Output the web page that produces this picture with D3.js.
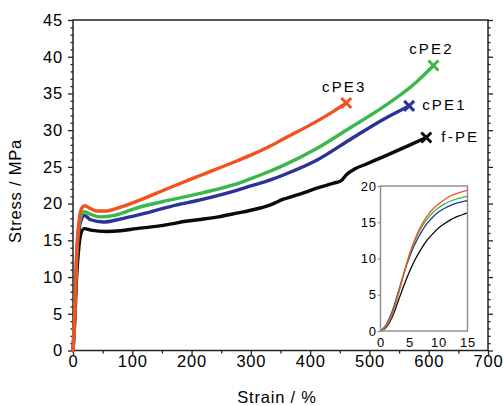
<!DOCTYPE html>
<html>
<head>
<meta charset="utf-8">
<script src="https://cdn.jsdelivr.net/npm/d3@7"></script>
<style>
  html, body { margin: 0; padding: 0; background: #fff; }
  svg { display: block; font-family: "Liberation Sans", Arial, sans-serif; }
</style>
</head>
<body>
<svg id="chart" width="504" height="406"></svg>
<script>
// Tensile curves: strain (%) and stress (MPa) for each film.
const seriesNames = ["f-PE", "cPE1", "cPE2", "cPE3"];

const strainFPE  = [0, 3, 6, 10, 15, 19, 30, 57, 80, 107, 140, 164, 190, 220, 245, 276, 300, 332, 355, 390, 411, 440, 452, 462, 475, 495, 524, 563, 596];
const stressFPE  = [0, 4.0, 9.9, 14.2, 16.3, 16.6, 16.4, 16.2, 16.3, 16.6, 16.9, 17.2, 17.6, 17.9, 18.2, 18.7, 19.1, 19.8, 20.6, 21.5, 22.1, 22.8, 23.1, 24.0, 24.7, 25.4, 26.4, 27.8, 29.0];

const strainCPE1 = [0, 3, 6, 10, 15, 19, 30, 51, 75, 107, 164, 220, 276, 300, 332, 355, 411, 467, 524, 567];
const stressCPE1 = [0, 5.2, 12.1, 16.4, 18.0, 18.4, 17.8, 17.5, 17.8, 18.4, 19.6, 20.6, 21.8, 22.4, 23.2, 23.9, 25.9, 28.7, 31.5, 33.3];

const strainCPE2 = [0, 3, 6, 10, 15, 19, 28, 45, 70, 107, 164, 220, 276, 300, 332, 355, 411, 467, 524, 580, 608];
const stressCPE2 = [0, 5.0, 12.6, 17.0, 18.6, 18.9, 18.6, 18.2, 18.4, 19.4, 20.5, 21.5, 22.7, 23.4, 24.4, 25.2, 27.5, 30.3, 33.2, 36.6, 38.8];

const strainCPE3 = [0, 3, 6, 10, 15, 20, 28, 40, 55, 75, 107, 164, 220, 276, 300, 332, 355, 411, 440, 461];
const stressCPE3 = [0, 4.8, 12.8, 17.5, 19.4, 19.7, 19.4, 19.0, 19.0, 19.4, 20.3, 22.2, 24.0, 25.8, 26.6, 27.8, 28.8, 31.2, 32.6, 33.7];

// Early-strain region (0–15 %) shown in the inset.
const insetStrain    = [0, 1, 2, 3, 4, 5, 6, 7, 8, 9, 10, 11, 12, 13, 14, 15];
const insetStressFPE  = [0, 0.5, 1.9, 4.0, 6.2, 8.2, 9.9, 11.3, 12.5, 13.4, 14.2, 14.8, 15.3, 15.7, 16.0, 16.3];
const insetStressCPE1 = [0, 0.9, 2.7, 5.2, 7.9, 10.2, 12.1, 13.6, 14.8, 15.7, 16.4, 16.9, 17.3, 17.6, 17.8, 18.0];
const insetStressCPE2 = [0, 0.7, 2.4, 5.0, 7.9, 10.5, 12.6, 14.2, 15.4, 16.3, 17.0, 17.5, 17.9, 18.2, 18.4, 18.6];
const insetStressCPE3 = [0, 0.6, 2.2, 4.8, 7.8, 10.6, 12.8, 14.5, 15.8, 16.8, 17.5, 18.1, 18.6, 18.9, 19.2, 19.4];

// Axis ticks
const xTicks      = [0, 100, 200, 300, 400, 500, 600, 700];
const xMinorTicks = [50, 150, 250, 350, 450, 550, 650];
const yTicks      = [0, 5, 10, 15, 20, 25, 30, 35, 40, 45];
const yMinorTicks = d3.range(0, 46, 1).filter(v => v % 5 !== 0);
const insetXTicks = [0, 5, 10, 15];
const insetYTicks = [0, 5, 10, 15, 20];

// ---- styling / layout ----
const colors = { "f-PE": "#0a0a0a", "cPE1": "#2b3399", "cPE2": "#3cb84a", "cPE3": "#f2521f" };
const labelPlace = {
  "cPE2": { dx: -2, dy: -12, anchor: "middle" },
  "cPE3": { dx: -2, dy: -11, anchor: "middle" },
  "cPE1": { dx: 13, dy: 4.5, anchor: "start" },
  "f-PE": { dx: 15, dy: 4, anchor: "start" }
};

const zip = (xs, ys) => xs.map((x, i) => [x, ys[i]]);
const mainData = {
  "f-PE": zip(strainFPE, stressFPE),
  "cPE1": zip(strainCPE1, stressCPE1),
  "cPE2": zip(strainCPE2, stressCPE2),
  "cPE3": zip(strainCPE3, stressCPE3)
};
const insetData = {
  "f-PE": zip(insetStrain, insetStressFPE),
  "cPE1": zip(insetStrain, insetStressCPE1),
  "cPE2": zip(insetStrain, insetStressCPE2),
  "cPE3": zip(insetStrain, insetStressCPE3)
};

const svg = d3.select("#chart");
const axisColor = "#222";

const x = d3.scaleLinear().domain([0, 700]).range([73, 488]);
const y = d3.scaleLinear().domain([0, 45]).range([350.5, 20]);

function styleAxis(g, fontSize, spacing) {
  g.select(".domain").remove();
  g.selectAll(".tick line").attr("stroke", axisColor).attr("stroke-width", 1.3);
  g.selectAll("text").attr("font-size", fontSize).attr("fill", "#000")
    .attr("font-family", "'Liberation Sans', Arial, sans-serif")
    .attr("letter-spacing", spacing);
}

// minor ticks
svg.append("g").attr("transform", `translate(${x(0)},0)`)
  .call(d3.axisLeft(y).tickValues(yMinorTicks).tickSize(2.5).tickFormat(""))
  .call(g => styleAxis(g, 0, 0));
svg.append("g").attr("transform", `translate(${x(700)},0)`)
  .call(d3.axisRight(y).tickValues(yMinorTicks).tickSize(2.5).tickFormat(""))
  .call(g => styleAxis(g, 0, 0));
svg.append("g").attr("transform", `translate(0,${y(0)})`)
  .call(d3.axisBottom(x).tickValues(xMinorTicks).tickSize(3).tickFormat(""))
  .call(g => styleAxis(g, 0, 0));

// major ticks + labels
svg.append("g").attr("transform", `translate(${x(0)},0)`)
  .call(d3.axisLeft(y).tickValues(yTicks).tickSize(5).tickPadding(5))
  .call(g => styleAxis(g, 16.5, 0.8));
svg.append("g").attr("transform", `translate(${x(700)},0)`)
  .call(d3.axisRight(y).tickValues(yTicks).tickSize(5).tickFormat(""))
  .call(g => styleAxis(g, 0, 0));
svg.append("g").attr("transform", `translate(0,${y(0)})`)
  .call(d3.axisBottom(x).tickValues(xTicks).tickSize(4.5).tickPadding(0))
  .call(g => styleAxis(g, 16.5, 0.8));

// frame
svg.append("rect")
  .attr("x", x(0)).attr("y", y(45))
  .attr("width", x(700) - x(0)).attr("height", y(0) - y(45))
  .attr("fill", "none").attr("stroke", axisColor).attr("stroke-width", 1.5);

// axis titles
svg.append("text")
  .attr("transform", `translate(21,191) rotate(-90)`)
  .attr("text-anchor", "middle").attr("font-size", 16.5).attr("letter-spacing", 0.8)
  .text("Stress / MPa");
svg.append("text")
  .attr("x", 277).attr("y", 403)
  .attr("text-anchor", "middle").attr("font-size", 16.5).attr("letter-spacing", 0.8)
  .text("Strain / %");

// curves
const line = d3.line().x(d => x(d[0])).y(d => y(d[1])).curve(d3.curveMonotoneX);
seriesNames.forEach(name => {
  svg.append("path")
    .datum(mainData[name])
    .attr("d", line)
    .attr("fill", "none")
    .attr("stroke", colors[name])
    .attr("stroke-width", 3.4)
    .attr("stroke-linejoin", "round")
    .attr("stroke-linecap", "round");
});

// break-point crosses and labels
seriesNames.forEach(name => {
  const pts = mainData[name];
  const end = pts[pts.length - 1];
  const cx = x(end[0]), cy = y(end[1]);
  const s = 5;
  svg.append("path")
    .attr("d", `M${cx - s},${cy - s}L${cx + s},${cy + s}M${cx - s},${cy + s}L${cx + s},${cy - s}`)
    .attr("stroke", colors[name]).attr("stroke-width", 3).attr("fill", "none");
  const p = labelPlace[name];
  svg.append("text")
    .attr("x", cx + p.dx).attr("y", cy + p.dy)
    .attr("text-anchor", p.anchor)
    .attr("font-size", 15).attr("letter-spacing", 2.2)
    .attr("fill", "#000")
    .text(name);
});

// ---- inset ----
const ix = d3.scaleLinear().domain([0, 15]).range([380.5, 467.5]);
const iy = d3.scaleLinear().domain([0, 20]).range([331, 186]);
const inset = svg.append("g");
inset.append("rect")
  .attr("x", ix(0)).attr("y", iy(20))
  .attr("width", ix(15) - ix(0)).attr("height", iy(0) - iy(20))
  .attr("fill", "#fff");

inset.append("g").attr("transform", `translate(${ix(0)},0)`)
  .call(d3.axisLeft(iy).tickValues(insetYTicks).tickSize(3).tickPadding(0.5))
  .call(g => styleAxis(g, 13, 0.9))
  .call(g => g.selectAll(".tick line").attr("stroke", "#888").attr("stroke-width", 1));
inset.append("g").attr("transform", `translate(0,${iy(0)})`)
  .call(d3.axisBottom(ix).tickValues(insetXTicks).tickSize(0).tickPadding(7))
  .call(g => styleAxis(g, 13, 0.9));

const iline = d3.line().x(d => ix(d[0])).y(d => iy(d[1])).curve(d3.curveMonotoneX);
seriesNames.forEach(name => {
  inset.append("path")
    .datum(insetData[name])
    .attr("d", iline)
    .attr("fill", "none")
    .attr("stroke", colors[name])
    .attr("stroke-width", 1.3);
});

inset.append("rect")
  .attr("x", ix(0)).attr("y", iy(20))
  .attr("width", ix(15) - ix(0)).attr("height", iy(0) - iy(20))
  .attr("fill", "none").attr("stroke", "#8a8a8a").attr("stroke-width", 1.4);
</script>
</body>
</html>
